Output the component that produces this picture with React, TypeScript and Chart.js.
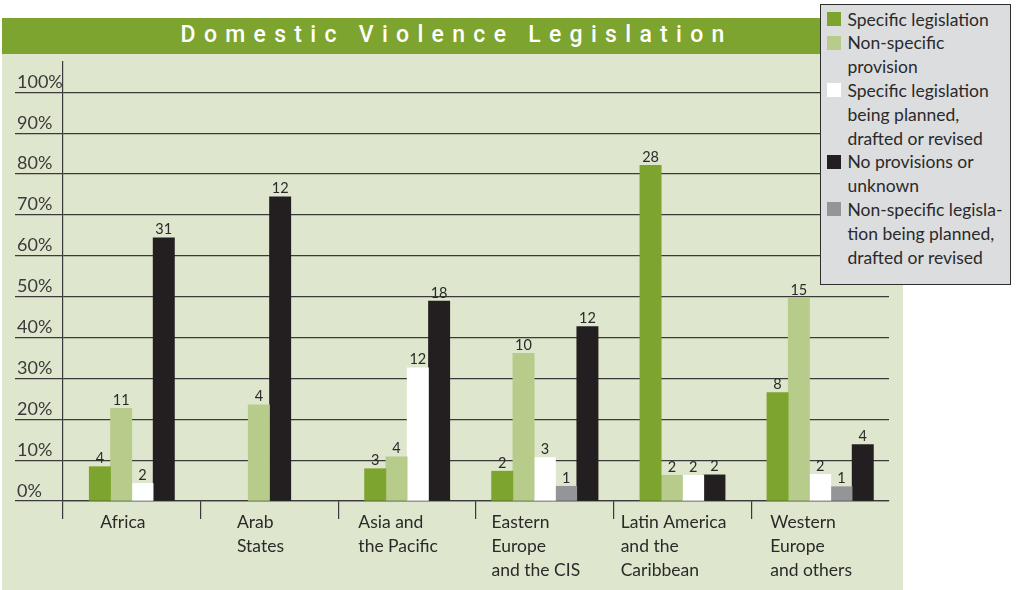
import React, { useEffect, useRef } from "react";
import { Chart, registerables } from "chart.js";

Chart.register(...registerables);

const FONT = "Lato, 'Liberation Sans', Arial, sans-serif";
const TITLE_FONT = "Roboto, 'DejaVu Sans', sans-serif";

const titleText = "Domestic Violence Legislation";

const categories = [
  ["Africa"],
  ["Arab", "States"],
  ["Asia and", "the Pacific"],
  ["Eastern", "Europe", "and the CIS"],
  ["Latin America", "and the", "Caribbean"],
  ["Western", "Europe", "and others"],
];

const yTicks = [0, 10, 20, 30, 40, 50, 60, 70, 80, 90, 100];

// bar heights (% of countries in region)
const specificPct = [8.4, null, 7.9, 7.3, 82.1, 26.5];
const nonSpecificPct = [22.7, 23.5, 10.8, 36.1, 6.3, 49.6];
const plannedPct = [4.3, null, 32.6, 10.6, 6.3, 6.5];
const nonSpecPlannedPct = [null, null, null, 3.6, null, 3.5];
const noneUnknownPct = [64.4, 74.4, 48.9, 42.7, 6.4, 13.8];

// numbers of countries printed above the bars
const specificCount = [4, null, 3, 2, 28, 8];
const nonSpecificCount = [11, 4, 4, 10, 2, 15];
const plannedCount = [2, null, 12, 3, 2, 2];
const nonSpecPlannedCount = [null, null, null, 1, null, 1];
const noneUnknownCount = [31, 12, 18, 12, 2, 4];

const seriesNames = [
  "Specific legislation",
  "Non-specific provision",
  "Specific legislation being planned, drafted or revised",
  "Non-specific legislation being planned, drafted or revised",
  "No provisions or unknown",
];

const COLORS = {
  specific: "#7da42e",
  nonSpecific: "#b7cb8b",
  planned: "#ffffff",
  nonSpecPlanned: "#939598",
  none: "#231f20",
};

// legend (order and line breaks as printed)
const legendLabels = [
  ["Specific legislation"],
  ["Non-specific", "provision"],
  ["Specific legislation", "being planned,", "drafted or revised"],
  ["No provisions or", "unknown"],
  ["Non-specific legisla-", "tion being planned,", "drafted or revised"],
];
const legendColors = [
  COLORS.specific,
  COLORS.nonSpecific,
  COLORS.planned,
  COLORS.none,
  COLORS.nonSpecPlanned,
];

const GRID = "#3a3a3a";

const labelPlugin = {
  id: "customLabels",
  afterDatasetsDraw(chart: any) {
    const ctx = chart.ctx;
    ctx.save();
    // value labels
    ctx.font = `14.5px ${FONT}`;
    ctx.fillStyle = "#2a2a2a";
    ctx.textAlign = "center";
    ctx.textBaseline = "alphabetic";
    chart.data.datasets.forEach((ds: any, di: number) => {
      const meta = chart.getDatasetMeta(di);
      meta.data.forEach((el: any, i: number) => {
        const c = ds.counts[i];
        if (c === null || c === undefined || ds.data[i] === null) return;
        ctx.fillText(String(c), el.x, el.y - 3.5);
      });
    });
    ctx.restore();
  },
  afterDraw(chart: any) {
    const ctx = chart.ctx;
    const xs = chart.scales.x;
    const ys = chart.scales.y;
    ctx.save();
    // y tick labels sitting above their gridlines
    ctx.font = `18px ${FONT}`;
    ctx.fillStyle = "#3a3a3a";
    ctx.textAlign = "left";
    ctx.textBaseline = "alphabetic";
    ys.ticks.forEach((t: any) => {
      const y = ys.getPixelForValue(t.value);
      ctx.fillText(`${t.value}%`, ys.left + 2, y - 4.5);
    });
    // category labels
    ctx.font = `17.5px ${FONT}`;
    ctx.fillStyle = "#2a2a2a";
    categories.forEach((lines, i) => {
      const cx = xs.getPixelForValue(i) - 9;
      const w = Math.max(...lines.map((l) => ctx.measureText(l).width));
      const x0 = cx - w / 2;
      lines.forEach((l, j) => {
        ctx.fillText(l, x0, xs.top + 26.5 + j * 24);
      });
    });
    ctx.restore();
  },
};

export default function App() {
  const ref = useRef<HTMLCanvasElement | null>(null);

  useEffect(() => {
    if (!ref.current) return;
    const mk = (label: string, data: any[], counts: any[], color: string) => ({
      label,
      data,
      counts,
      backgroundColor: color,
      borderWidth: 0,
      barThickness: 21.3,
      skipNull: true,
    });
    const chart = new Chart(ref.current, {
      type: "bar",
      data: {
        labels: categories.map((c) => c.join(" ")),
        datasets: [
          mk(seriesNames[0], specificPct, specificCount, COLORS.specific),
          mk(seriesNames[1], nonSpecificPct, nonSpecificCount, COLORS.nonSpecific),
          mk(seriesNames[2], plannedPct, plannedCount, COLORS.planned),
          mk(seriesNames[3], nonSpecPlannedPct, nonSpecPlannedCount, COLORS.nonSpecPlanned),
          mk(seriesNames[4], noneUnknownPct, noneUnknownCount, COLORS.none),
        ] as any,
      },
      options: {
        animation: false,
        responsive: true,
        maintainAspectRatio: false,
        layout: { padding: { left: 15, top: 62, right: 128, bottom: 71 } },
        plugins: {
          legend: { display: false },
          tooltip: { enabled: false },
          title: { display: false },
        },
        scales: {
          x: {
            type: "category",
            offset: true,
            afterFit: (s: any) => {
              s.height = 18;
            },
            grid: {
              offset: true,
              drawOnChartArea: false,
              drawTicks: true,
              tickLength: 18,
              lineWidth: 1.2,
              color: (c: any) => (c.type === "tick" ? GRID : "rgba(0,0,0,0)"),
            },
            border: { display: true, color: GRID, width: 1.2 },
            ticks: { display: false },
          },
          y: {
            type: "linear",
            min: 0,
            max: 107.4,
            afterFit: (s: any) => {
              s.width = 48;
            },
            afterBuildTicks: (s: any) => {
              s.ticks = yTicks.map((v) => ({ value: v }));
            },
            grid: {
              drawOnChartArea: true,
              drawTicks: true,
              tickLength: 48,
              lineWidth: 1.2,
              color: GRID,
            },
            border: { display: true, color: GRID, width: 1.2 },
            ticks: { display: false },
          },
        },
      },
      plugins: [labelPlugin],
    });
    return () => chart.destroy();
  }, []);

  return (
    <div
      style={{
        position: "absolute",
        left: 0,
        top: 0,
        width: 1017,
        height: 590,
        background: "#ffffff",
        overflow: "hidden",
        fontFamily: FONT,
      }}
    >
      <div
        style={{
          position: "absolute",
          left: 2,
          top: 18,
          width: 901,
          height: 572,
          background: "#dee7cd",
        }}
      />
      <div
        style={{
          position: "absolute",
          left: 2,
          top: 18,
          width: 901,
          height: 36,
          background: "#7da42e",
          color: "#ffffff",
          fontFamily: TITLE_FONT,
          fontWeight: 500,
          fontSize: 23,
          letterSpacing: "8.3px",
          lineHeight: "33px",
          textAlign: "center",
          paddingLeft: 8.3,
          boxSizing: "border-box",
          whiteSpace: "nowrap",
        }}
      >
        {titleText}
      </div>
      <div style={{ position: "absolute", left: 0, top: 0, width: 1017, height: 590 }}>
        <canvas ref={ref} />
      </div>
      <div
        style={{
          position: "absolute",
          left: 820,
          top: 4,
          width: 191,
          height: 281,
          boxSizing: "border-box",
          border: "1.5px solid #2e2e2e",
          background: "#dcdddf",
          paddingTop: 2.6,
          fontFamily: FONT,
          fontSize: 17.5,
          color: "#2a2a2a",
        }}
      >
        {legendLabels.map((lines, i) => (
          <div key={i} style={{ position: "relative", paddingLeft: 26.5 }}>
            <div
              style={{
                position: "absolute",
                left: 5.5,
                top: 4.5,
                width: 14,
                height: 14,
                background: legendColors[i],
              }}
            />
            {lines.map((l, j) => (
              <div key={j} style={{ lineHeight: "23.8px", whiteSpace: "nowrap" }}>
                {l}
              </div>
            ))}
          </div>
        ))}
      </div>
    </div>
  );
}
